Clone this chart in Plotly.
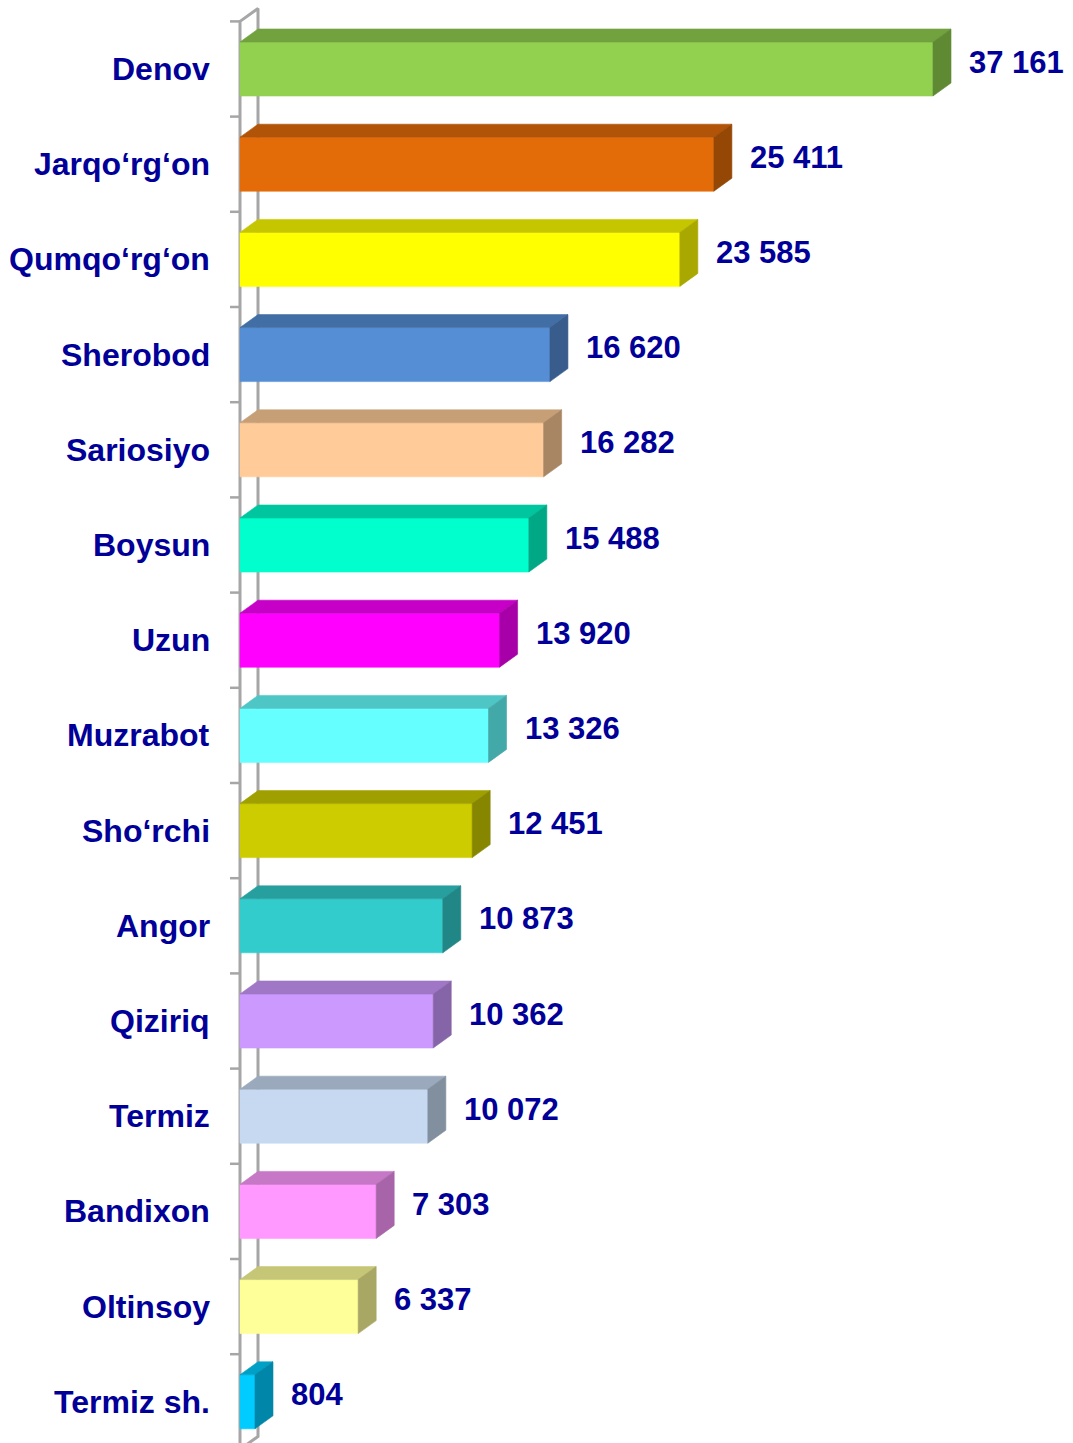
import plotly.graph_objects as go

# District figures, top to bottom
districts = ["Denov", "Jarqo‘rg‘on", "Qumqo‘rg‘on", "Sherobod", "Sariosiyo",
             "Boysun", "Uzun", "Muzrabot", "Sho‘rchi", "Angor", "Qiziriq",
             "Termiz", "Bandixon", "Oltinsoy", "Termiz sh."]
values = [37161, 25411, 23585, 16620, 16282, 15488, 13920, 13326, 12451,
          10873, 10362, 10072, 7303, 6337, 804]

# Front-face colours of the bars
front_colors = ["#92D050", "#E36C09", "#FFFF00", "#558ED5", "#FFCC99",
                "#00FFCC", "#FF00FF", "#66FFFF", "#CCCC00", "#33CCCC",
                "#CC99FF", "#C6D9F1", "#FF99FF", "#FFFF99", "#00CCFF"]

# ---- canvas / projection settings ----
W, H = 1073, 1443
AXIS_PX = 240                 # pixel column of the value-axis origin
PX_PER_UNIT = 693 / 37161     # horizontal scale
ROW_PX = 95.2                 # category pitch
FIRST_ROW_PX = 69             # pixel centre of the first category
DEPTH_X_PX, DEPTH_Y_PX = 18, 13
HALF_BAR_PX = 27

DX = DEPTH_X_PX / PX_PER_UNIT
DY = DEPTH_Y_PX / ROW_PX
HB = HALF_BAR_PX / ROW_PX

LABEL_COLOR = "#000099"
FONT = "Liberation Sans, Arial, sans-serif"
WALL = "#A6A6A6"


def shade(hex_color, k):
    h = hex_color.lstrip("#")
    r, g, b = (int(h[i:i + 2], 16) for i in (0, 2, 4))
    return "#{:02X}{:02X}{:02X}".format(int(r * k), int(g * k), int(b * k))


fig = go.Figure()


def poly(xs, ys, color):
    fig.add_trace(go.Scatter(
        x=xs + [xs[0]], y=ys + [ys[0]], mode="lines", fill="toself",
        fillcolor=color, line=dict(color=color, width=0.6),
        hoverinfo="skip", showlegend=False))


n = len(districts)
top_edge = -0.5
floor = n - 0.5

# side wall of the 3-D plot area
fig.add_trace(go.Scatter(
    x=[0, 0, DX, DX, 0], y=[floor, top_edge, top_edge - DY, floor - DY, floor],
    mode="lines", line=dict(color=WALL, width=3),
    hoverinfo="skip", showlegend=False))

# tick marks on the category axis
tick_len = 10 / PX_PER_UNIT
for k in range(n + 1):
    yk = k - 0.5
    fig.add_trace(go.Scatter(
        x=[-tick_len, 0], y=[yk, yk], mode="lines",
        line=dict(color=WALL, width=2.5), hoverinfo="skip", showlegend=False))

# 3-D bars: front face, top face, side face
for i, (v, c) in enumerate(zip(values, front_colors)):
    yt, yb = i - HB, i + HB
    poly([0, v, v, 0], [yt, yt, yb, yb], c)
    poly([0, v, v + DX, DX], [yt, yt, yt - DY, yt - DY], shade(c, 0.78))
    poly([v, v + DX, v + DX, v], [yt, yt - DY, yb - DY, yb], shade(c, 0.66))

annotations = []
for i, (name, v) in enumerate(zip(districts, values)):
    annotations.append(dict(
        x=0, y=i, xref="x", yref="y", text=name, showarrow=False,
        xanchor="right", yanchor="middle", xshift=-28,
        font=dict(family=FONT, size=32, color=LABEL_COLOR, weight="bold")))
    annotations.append(dict(
        x=v + DX, y=i, xref="x", yref="y",
        text=f"{v:,}".replace(",", " "), showarrow=False,
        xanchor="left", yanchor="middle", xshift=16, yshift=7,
        font=dict(family=FONT, size=31, color=LABEL_COLOR, weight="bold")))

fig.update_layout(
    width=W, height=H,
    margin=dict(l=0, r=0, t=0, b=0),
    paper_bgcolor="white", plot_bgcolor="white",
    xaxis=dict(range=[-AXIS_PX / PX_PER_UNIT, (W - AXIS_PX) / PX_PER_UNIT],
               visible=False, fixedrange=True),
    yaxis=dict(range=[(H - FIRST_ROW_PX) / ROW_PX, -FIRST_ROW_PX / ROW_PX],
               visible=False, fixedrange=True),
    annotations=annotations,
    showlegend=False,
)

fig.write_html("out.html")
